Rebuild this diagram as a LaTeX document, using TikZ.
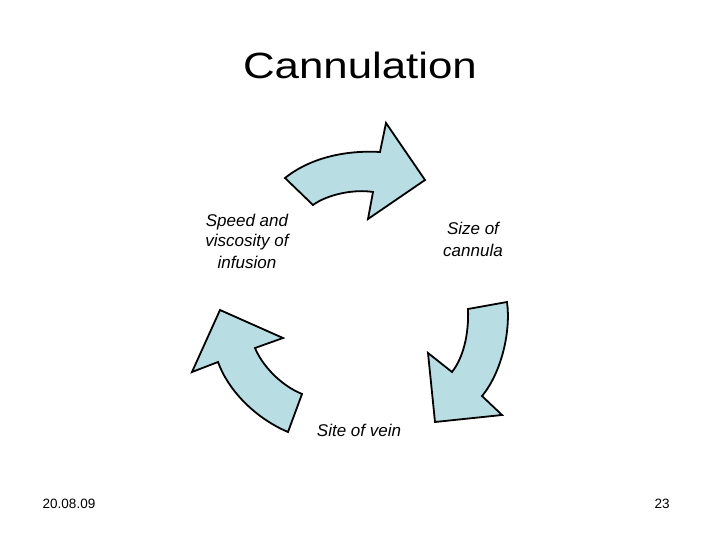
\documentclass[tikz,border=0pt]{standalone}
\usepackage{fontspec}
\setmainfont{Liberation Sans}
\usepackage{xcolor}
\usepackage{graphicx}
\definecolor{arrowfill}{RGB}{184,222,228}

\begin{document}
\begin{tikzpicture}[
    x=1pt, y=-1pt,
    cyc/.style={draw=black, fill=arrowfill, line width=1.8pt, line join=miter},
    lbl/.style={font=\fontsize{17}{21}\selectfont\itshape, align=center, inner sep=0pt},
    foot/.style={font=\fontsize{13.5}{15}\selectfont, inner sep=0pt, anchor=base}
]
\useasboundingbox (0,0) rectangle (720,540);
% Title
\node[inner sep=0pt, anchor=base] (title) at (360,79)
  {\scalebox{1.2}[1]{\fontsize{36.5}{44}\selectfont Cannulation}};
% Curved arrows of the cycle
\draw[cyc] (285,178) .. controls (310,158) and (345,150) .. (380,152)
  -- (386,123) -- (425,180) -- (368,219) -- (373,192)
  .. controls (355,189) and (328,194) .. (313,205) -- cycle;
\draw[cyc] (507,302) .. controls (511,330) and (502,372) .. (482,396)
  -- (502,415) -- (435,422) -- (428,353) -- (452,372)
  .. controls (463,358) and (469,335) .. (468,309) -- cycle;
\draw[cyc] (220,310) -- (283,338) -- (255,348)
  .. controls (262,365) and (280,385) .. (302,394)
  -- (288,432) .. controls (255,418) and (228,390) .. (218,362)
  -- (192,372) -- cycle;
% Labels (base = baseline of last line)
\node[lbl, anchor=base] (speed) at (247,268) {Speed and\\viscosity of\\infusion};
\node[lbl, anchor=base] (size) at (473,256) {Size of\\cannula};
\node[lbl, anchor=base] (site) at (359,436) {Site of vein};
% Footer
\node[foot] (date) at (69,508) {20.08.09};
\node[foot] (page) at (662,508) {23};
\end{tikzpicture}
\end{document}
